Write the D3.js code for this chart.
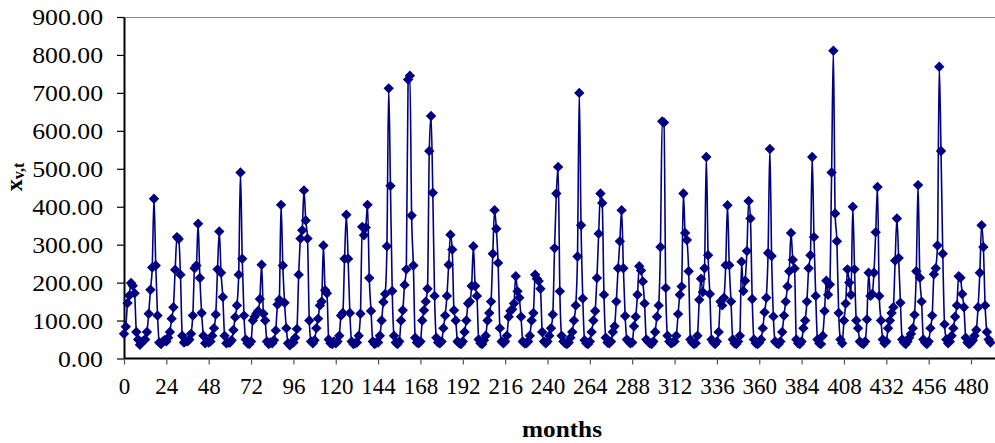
<!DOCTYPE html>
<html>
<head>
<meta charset="utf-8">
<script src="https://cdn.jsdelivr.net/npm/d3@7"></script>
<style>
  html, body { margin: 0; padding: 0; background: #fff; }
  svg { display: block; }
  text { font-family: "Liberation Serif", "Times New Roman", serif; fill: #000; }
</style>
</head>
<body>
<svg id="chart" width="995" height="443"></svg>
<script>
// Monthly series x(v,t), one row of twelve values per year (months 0..491)
const xvt = [
  65, 84, 146, 166, 199, 192, 172, 70, 50, 36, 42, 47,
  50, 70, 118, 181, 240, 421, 245, 113, 42, 38, 45, 48,
  45, 55, 70, 105, 135, 234, 320, 315, 221, 60, 42, 45,
  45, 50, 65, 113, 238, 245, 355, 212, 120, 60, 40, 45,
  42, 45, 60, 80, 116, 235, 335, 226, 162, 60, 40, 42,
  42, 48, 75, 109, 140, 221, 490, 263, 113, 50, 40, 38,
  45, 100, 110, 118, 125, 157, 247, 118, 100, 45, 38, 42,
  40, 48, 74, 142, 155, 405, 245, 147, 80, 40, 35, 42,
  42, 55, 78, 221, 316, 338, 443, 364, 316, 100, 45, 40,
  48, 80, 105, 140, 150, 298, 180, 172, 50, 40, 38, 45,
  40, 45, 60, 113, 120, 263, 379, 263, 120, 45, 38, 40,
  42, 60, 118, 347, 325, 345, 405, 212, 125, 45, 38, 42,
  42, 60, 100, 149, 170, 296, 712, 455, 178, 60, 42, 38,
  45, 100, 127, 194, 235, 735, 745, 377, 245, 55, 42, 40,
  45, 100, 127, 150, 184, 547, 639, 437, 165, 55, 42, 40,
  45, 80, 113, 165, 247, 326, 287, 127, 100, 45, 40, 38,
  45, 70, 100, 145, 150, 191, 296, 191, 165, 50, 40, 38,
  48, 60, 100, 120, 150, 276, 391, 342, 252, 80, 45, 40,
  45, 60, 110, 125, 130, 145, 217, 177, 160, 110, 45, 40,
  40, 45, 60, 100, 120, 221, 210, 204, 184, 70, 45, 40,
  45, 60, 80, 116, 291, 435, 505, 177, 60, 45, 40, 38,
  42, 55, 70, 100, 140, 269, 700, 351, 158, 48, 40, 38,
  45, 70, 100, 125, 212, 329, 435, 410, 168, 55, 42, 40,
  45, 70, 85, 150, 238, 309, 391, 238, 112, 50, 45, 40,
  42, 85, 110, 168, 243, 232, 203, 145, 50, 45, 40, 38,
  45, 70, 110, 140, 294, 625, 622, 186, 60, 45, 40, 42,
  45, 60, 117, 168, 190, 435, 331, 312, 230, 50, 42, 38,
  40, 60, 155, 210, 175, 238, 531, 272, 170, 50, 42, 38,
  45, 70, 150, 140, 160, 246, 404, 246, 150, 50, 40, 38,
  45, 60, 255, 178, 205, 283, 415, 369, 157, 50, 40, 38,
  42, 50, 80, 122, 160, 278, 552, 270, 111, 45, 40, 38,
  45, 70, 113, 150, 190, 230, 331, 260, 237, 50, 40, 38,
  45, 80, 100, 150, 238, 272, 531, 320, 165, 50, 40, 38,
  60, 125, 205, 168, 195, 490, 811, 382, 309, 120, 50, 40,
  100, 145, 235, 200, 168, 400, 235, 100, 80, 45, 40, 38,
  45, 103, 226, 165, 170, 226, 333, 452, 165, 100, 50, 40,
  45, 80, 100, 120, 135, 258, 369, 265, 147, 50, 42, 38,
  45, 55, 65, 80, 115, 230, 457, 213, 150, 50, 42, 38,
  45, 80, 113, 222, 238, 298, 769, 547, 276, 90, 50, 40,
  45, 60, 80, 110, 140, 217, 213, 170, 135, 55, 42, 38,
  42, 48, 60, 75, 135, 226, 351, 294, 140, 70, 50, 42
];

const monthTicks = [0, 24, 48, 72, 96, 120, 144, 168, 192, 216, 240, 264, 288, 312, 336, 360, 384, 408, 432, 456, 480];
const valueTicks = [0, 100, 200, 300, 400, 500, 600, 700, 800, 900];

const svg = d3.select("#chart");
const plotLeft = 124, plotTop = 17, plotBottom = 358.5, plotRight = 995;

const x = d3.scaleLinear().domain([0, 480]).range([plotLeft, plotLeft + 480 * 1.7646]);
const y = d3.scaleLinear().domain([0, 900]).range([plotBottom, plotTop]);

// widen the serif glyphs a little so the labels read like a book face
function widen(sel, k) {
  sel.each(function () {
    const w = this.getComputedTextLength();
    d3.select(this).attr("textLength", w * k).attr("lengthAdjust", "spacingAndGlyphs");
  });
}

// plot frame: grey top edge
svg.append("line")
  .attr("x1", plotLeft).attr("x2", plotRight)
  .attr("y1", plotTop + 0.5).attr("y2", plotTop + 0.5)
  .attr("stroke", "#8c8c8c").attr("stroke-width", 1.2);

// y axis
const yAxis = svg.append("g")
  .attr("transform", `translate(${plotLeft},0)`)
  .call(d3.axisLeft(y).tickValues(valueTicks).tickFormat(d3.format(".2f")).tickSize(7).tickSizeOuter(0).tickPadding(14));
yAxis.select(".domain").attr("stroke", "#000").attr("stroke-width", 2);
yAxis.selectAll(".tick line").attr("stroke", "#000").attr("stroke-width", 1.2);
yAxis.selectAll(".tick text")
  .attr("font-size", 23)
  .attr("font-family", "Liberation Serif, serif")
  .attr("dy", "0.33em")
  .call(widen, 1.12);

// x axis
const xAxis = svg.append("g")
  .attr("transform", `translate(0,${plotBottom})`)
  .call(d3.axisBottom(x).tickValues(monthTicks).tickFormat(d3.format("d")).tickSize(6).tickSizeOuter(0).tickPadding(13));
xAxis.select(".domain").attr("d", `M${plotLeft},0H${plotRight}`).attr("stroke", "#000").attr("stroke-width", 2);
xAxis.selectAll(".tick line").attr("stroke", "#555").attr("stroke-width", 1.2);
xAxis.selectAll(".tick text")
  .attr("font-size", 23)
  .attr("font-family", "Liberation Serif, serif");

// series line (smoothed) and diamond markers
const line = d3.line()
  .x((d, i) => x(i))
  .y(d => y(d))
  .curve(d3.curveMonotoneX);

svg.append("path")
  .datum(xvt)
  .attr("fill", "none")
  .attr("stroke", "#000080")
  .attr("stroke-width", 1.6)
  .attr("d", line);

svg.append("g")
  .selectAll("path")
  .data(xvt)
  .join("path")
  .attr("transform", (d, i) => `translate(${x(i)},${y(d)})`)
  .attr("d", "M0,-5.2L5.2,0L0,5.2L-5.2,0Z")
  .attr("fill", "#000080");

// axis titles
svg.append("text")
  .attr("x", 562).attr("y", 437)
  .attr("text-anchor", "middle")
  .attr("font-size", 23)
  .attr("font-weight", "bold")
  .attr("textLength", 80)
  .attr("lengthAdjust", "spacingAndGlyphs")
  .text("months");

const yt = svg.append("text")
  .attr("transform", "translate(22,177) rotate(-90)")
  .attr("text-anchor", "middle")
  .attr("font-weight", "bold");
yt.append("tspan").attr("font-size", 24).text("x");
yt.append("tspan").attr("font-size", 16).attr("dy", 2).text("v,t");
</script>
</body>
</html>
